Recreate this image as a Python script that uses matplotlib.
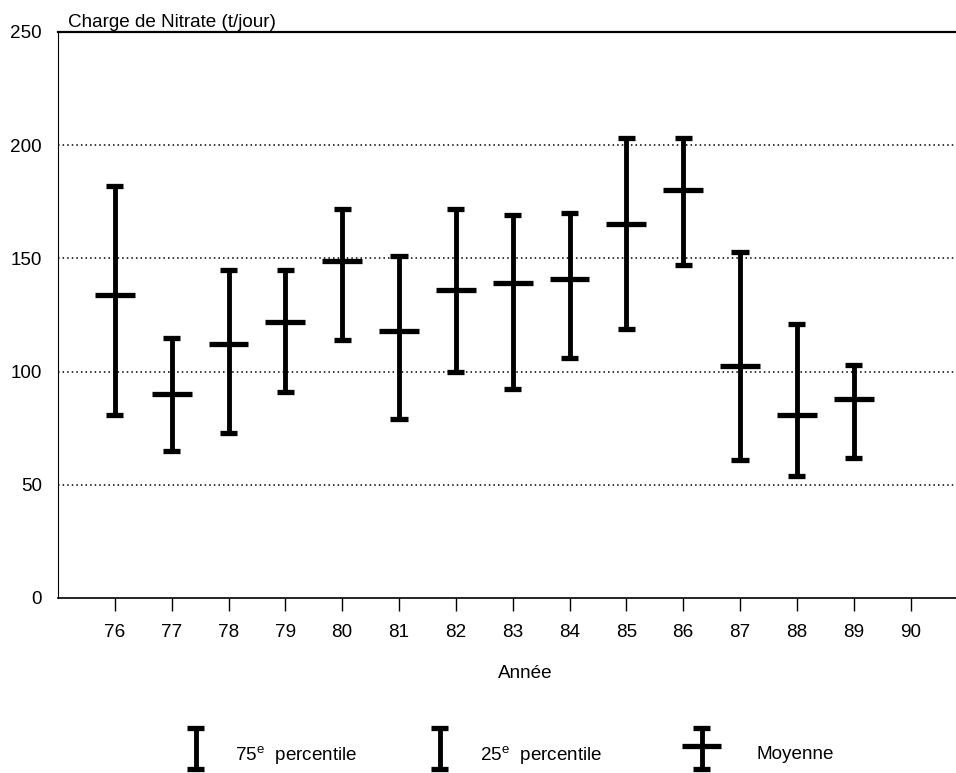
import matplotlib
matplotlib.use("Agg")
import matplotlib.pyplot as plt
import numpy as np

plt.rcParams['font.family'] = ['Liberation Sans', 'DejaVu Sans']
plt.rcParams['mathtext.fontset'] = 'custom'
plt.rcParams['mathtext.rm'] = 'Liberation Sans'

# ---- data ----
years = [76, 77, 78, 79, 80, 81, 82, 83, 84, 85, 86, 87, 88, 89]
p75 = [182, 115, 145, 145, 172, 151, 172, 169, 170, 203, 203, 153, 121, 103]
moyenne = [134, 90, 112, 122, 149, 118, 136, 139, 141, 165, 180, 102.5, 81, 88]
p25 = [81, 65, 73, 91, 114, 79, 100, 92.5, 106, 119, 147, 61, 54, 62]
xticks = [76, 77, 78, 79, 80, 81, 82, 83, 84, 85, 86, 87, 88, 89, 90]
yticks = [0, 50, 100, 150, 200, 250]
grid_vals = [50, 100, 150, 200]

FS = 13.6
W, H = 956, 773
fig = plt.figure(figsize=(W / 100, H / 100), dpi=100)
ax = fig.add_axes([58 / W, 1 - 598 / H, (W - 58) / W, (598 - 32) / H])

x = np.array(years, dtype=float)
ax.vlines(x, p25, p75, color='black', lw=3.5)
ax.hlines(p75, x - 0.15, x + 0.15, color='black', lw=3.8)
ax.hlines(p25, x - 0.15, x + 0.15, color='black', lw=3.8)
ax.hlines(moyenne, x - 0.35, x + 0.35, color='black', lw=3.8)

for g in grid_vals:
    ax.axhline(g, color='black', lw=1.1, linestyle=(0, (1, 2)), zorder=0)

ax.set_xlim(75, 90.8)
ax.set_ylim(0, 250)
ax.set_xticks(xticks)
ax.set_xticklabels([str(t) for t in xticks], fontsize=FS)
ax.set_yticks(yticks)
ax.set_yticklabels([str(t) for t in yticks], fontsize=FS)
ax.tick_params(axis='x', direction='out', length=9.5, width=1.0, pad=9.0)
ax.tick_params(axis='y', length=0, pad=11.5)

ax.spines['right'].set_visible(False)
ax.spines['top'].set_linewidth(1.6)
ax.spines['bottom'].set_linewidth(1.2)
ax.spines['left'].set_linewidth(0.8)

fig.text(68 / W, 1 - 27 / H, 'Charge de Nitrate (t/jour)', fontsize=FS,
         ha='left', va='baseline')
fig.text(525 / W, 1 - 673 / H, 'Année', fontsize=FS, ha='center', va='center')

# ---- legend ----
lg = fig.add_axes([0, 0, 1, 1], zorder=-1)
lg.set_xlim(0, W)
lg.set_ylim(H, 0)
lg.axis('off')

def ibeam(cx, top=726, bot=771):
    lg.vlines(cx, top, bot, color='black', lw=3.5)
    lg.hlines([top + 2, bot - 2], cx - 8.5, cx + 8.5, color='black', lw=3.8)

ibeam(196)
ibeam(440)
ibeam(702)
lg.hlines(746, 682, 721, color='black', lw=3.8)

lg.text(235, 761, '75$^{\\mathrm{e}}$  percentile', fontsize=FS, ha='left', va='baseline')
lg.text(480, 761, '25$^{\\mathrm{e}}$  percentile', fontsize=FS, ha='left', va='baseline')
lg.text(757, 759, 'Moyenne', fontsize=FS, ha='left', va='baseline')

fig.savefig('out.png', dpi=100)
